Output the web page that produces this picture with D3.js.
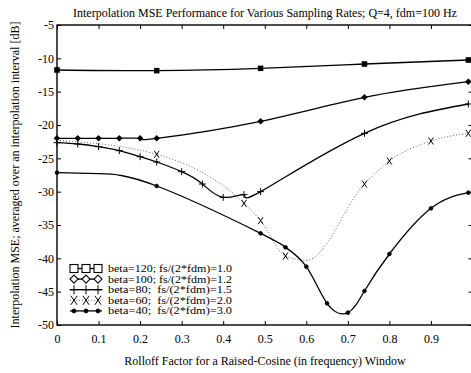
<!DOCTYPE html>
<html>
<head>
<meta charset="utf-8">
<script src="https://cdn.jsdelivr.net/npm/d3@7"></script>
<style>
  html, body { margin: 0; padding: 0; background: #fff; }
  svg { display: block; }
  text { font-family: "Liberation Serif", "Times New Roman", serif; fill: #000; }
</style>
</head>
<body>
<svg id="chart" width="471" height="373"></svg>
<script>
// Interpolation MSE [dB] versus raised-cosine rolloff factor, one curve per sampling rate.
const titleText = "Interpolation MSE Performance for Various Sampling Rates; Q=4, fdm=100 Hz";
const xLabelText = "Rolloff Factor for a Raised-Cosine (in frequency) Window";
const yLabelText = "Interpolation MSE; averaged over an interpolation interval [dB]";

const xTicks = [0, 0.1, 0.2, 0.3, 0.4, 0.5, 0.6, 0.7, 0.8, 0.9];
const yTicks = [-5, -10, -15, -20, -25, -30, -35, -40, -45, -50];

const legendLabels = [
  "beta=120; fs/(2*fdm)=1.0",
  "beta=100; fs/(2*fdm)=1.2",
  "beta=80;  fs/(2*fdm)=1.5",
  "beta=60;  fs/(2*fdm)=2.0",
  "beta=40;  fs/(2*fdm)=3.0"
];

// beta=120, fs/(2*fdm)=1.0
const rolloff120 = [0, 0.24, 0.49, 0.74, 0.99];
const mse120     = [-11.75, -11.85, -11.5, -10.85, -10.25];
const marks120   = [0, 0.24, 0.49, 0.74, 0.99];

// beta=100, fs/(2*fdm)=1.2
const rolloff100 = [0, 0.05, 0.1, 0.15, 0.2, 0.24, 0.49, 0.74, 0.99];
const mse100     = [-22, -22, -22, -22, -22, -22, -19.45, -15.85, -13.5];
const marks100   = [0, 0.05, 0.1, 0.15, 0.2, 0.24, 0.49, 0.74, 0.99];

// beta=80, fs/(2*fdm)=1.5
const rolloff80 = [0, 0.05, 0.1, 0.15, 0.2, 0.24, 0.3, 0.35, 0.4, 0.45, 0.49, 0.74, 0.99];
const mse80     = [-22.65, -22.85, -23.25, -23.85, -24.75, -25.55, -27.0, -28.85, -30.85, -30.45, -30.0, -21.25, -16.85];
const marks80   = [0, 0.05, 0.1, 0.15, 0.2, 0.24, 0.3, 0.35, 0.4, 0.45, 0.49, 0.74, 0.99];

// beta=60, fs/(2*fdm)=2.0
const rolloff60 = [0, 0.24, 0.45, 0.49, 0.55, 0.6, 0.74, 0.8, 0.9, 0.99];
const mse60     = [-22.3, -24.4, -31.75, -34.35, -39.65, -40.3, -28.85, -25.4, -22.4, -21.25];
const marks60   = [0.24, 0.45, 0.49, 0.55, 0.74, 0.8, 0.9, 0.99];

// beta=40, fs/(2*fdm)=3.0
const rolloff40 = [0, 0.1, 0.24, 0.49, 0.55, 0.6, 0.65, 0.7, 0.74, 0.8, 0.9, 0.99];
const mse40     = [-27.15, -27.3, -29.15, -36.25, -38.35, -41.25, -46.75, -48.15, -44.9, -39.35, -32.5, -30.15];
const marks40   = [0, 0.24, 0.49, 0.55, 0.6, 0.65, 0.7, 0.74, 0.8, 0.9, 0.99];

const series = [
  { xs: rolloff120, ys: mse120, marks: marks120, marker: "square",  dotted: false, curve: d3.curveNatural },
  { xs: rolloff100, ys: mse100, marks: marks100, marker: "diamond", dotted: false, curve: d3.curveNatural },
  { xs: rolloff80,  ys: mse80,  marks: marks80,  marker: "plus",    dotted: false, curve: d3.curveNatural },
  { xs: rolloff60,  ys: mse60,  marks: marks60,  marker: "cross",   dotted: true,  curve: d3.curveMonotoneX },
  { xs: rolloff40,  ys: mse40,  marks: marks40,  marker: "dot",     dotted: false, curve: d3.curveNatural }
];

const svg = d3.select("#chart");
const plot = { left: 57, top: 25, right: 472.5, bottom: 325 };

const x = d3.scaleLinear().domain([0, 1]).range([plot.left, plot.right]);
const y = d3.scaleLinear().domain([-5, -50]).range([plot.top, plot.bottom]);

// Title
svg.append("text")
  .attr("x", 265).attr("y", 17)
  .attr("text-anchor", "middle")
  .style("font-size", "12px")
  .text(titleText);

// Axis labels
svg.append("text")
  .attr("x", 265).attr("y", 365)
  .attr("text-anchor", "middle")
  .style("font-size", "12px")
  .text(xLabelText);

svg.append("text")
  .attr("transform", `translate(19,${(plot.top + plot.bottom) / 2}) rotate(-90)`)
  .attr("text-anchor", "middle")
  .style("font-size", "12px")
  .text(yLabelText);

// Axes: inward ticks on all four sides, labels on left and bottom
const tickLen = 4;
const xAxisBottom = d3.axisBottom(x).tickValues(xTicks).tickSize(-tickLen).tickPadding(9)
  .tickFormat(d => d === 0 ? "0" : d3.format(".1f")(d));
const xAxisTop = d3.axisTop(x).tickValues(xTicks.concat([1])).tickSize(-tickLen).tickFormat("");
const yAxisLeft = d3.axisLeft(y).tickValues(yTicks).tickSize(-tickLen).tickPadding(3)
  .tickFormat(d => String(d));
const yAxisRight = d3.axisRight(y).tickValues(yTicks).tickSize(-tickLen).tickFormat("");

function styleAxis(g) {
  g.select(".domain").remove();
  g.selectAll(".tick line").attr("stroke", "#000").attr("stroke-width", 1);
  g.selectAll(".tick text").style("font-size", "12px")
    .style("font-family", "'Liberation Serif', 'Times New Roman', serif").attr("fill", "#000");
}

svg.append("g").attr("transform", `translate(0,${plot.bottom})`).call(xAxisBottom).call(styleAxis);
svg.append("g").attr("transform", `translate(0,${plot.top})`).call(xAxisTop).call(styleAxis);
svg.append("g").attr("transform", `translate(${plot.left},0)`).call(yAxisLeft).call(styleAxis);
svg.append("g").attr("transform", `translate(${plot.right},0)`).call(yAxisRight).call(styleAxis);

// Frame
svg.append("rect")
  .attr("x", plot.left).attr("y", plot.top)
  .attr("width", plot.right - plot.left).attr("height", plot.bottom - plot.top)
  .attr("fill", "none").attr("stroke", "#000").attr("stroke-width", 1.4);

// Marker painter; `fill` is the interior colour of closed markers
function drawMarker(g, type, cx, cy, s, fill) {
  if (type === "square") {
    g.append("rect").attr("x", cx - s).attr("y", cy - s).attr("width", 2 * s).attr("height", 2 * s)
      .attr("fill", fill).attr("stroke", "#000").attr("stroke-width", 1.1);
  } else if (type === "diamond") {
    g.append("path")
      .attr("d", `M${cx},${cy - s}L${cx + s},${cy}L${cx},${cy + s}L${cx - s},${cy}Z`)
      .attr("fill", fill).attr("stroke", "#000").attr("stroke-width", 1.1);
  } else if (type === "plus") {
    g.append("path")
      .attr("d", `M${cx - s},${cy}H${cx + s}M${cx},${cy - s}V${cy + s}`)
      .attr("stroke", "#000").attr("stroke-width", 1).attr("fill", "none");
  } else if (type === "cross") {
    const w = s * 0.7;
    g.append("path")
      .attr("d", `M${cx - w},${cy - s}L${cx + w},${cy + s}M${cx + w},${cy - s}L${cx - w},${cy + s}`)
      .attr("stroke", "#000").attr("stroke-width", 1).attr("fill", "none");
  } else if (type === "dot") {
    g.append("circle").attr("cx", cx).attr("cy", cy).attr("r", s * 0.55)
      .attr("fill", "#000").attr("stroke", "#000").attr("stroke-width", 0.8);
  }
}

const plotG = svg.append("g");
const markerSize = { square: 2.2, diamond: 2.5, plus: 3.5, cross: 3.5, dot: 3.4 };

series.forEach(s => {
  const pts = s.xs.map((v, i) => [v, s.ys[i]]);
  const line = d3.line().x(d => x(d[0])).y(d => y(d[1])).curve(s.curve);
  plotG.append("path")
    .attr("d", line(pts))
    .attr("fill", "none")
    .attr("stroke", s.dotted ? "#555" : "#000")
    .attr("stroke-width", s.dotted ? 0.9 : 1.3)
    .attr("stroke-dasharray", s.dotted ? "1,2" : null);
  const mg = plotG.append("g");
  s.marks.forEach(m => {
    const i = s.xs.indexOf(m);
    drawMarker(mg, s.marker, x(s.xs[i]), y(s.ys[i]), markerSize[s.marker], "#000");
  });
});

// Legend
const legend = svg.append("g");
const legendTop = 268.5, legendStep = 10.6;
const legendMarkX = [74, 86, 98];
const legendMarkSize = { square: 4, diamond: 4, plus: 4.5, cross: 4.5, dot: 3.6 };
series.forEach((s, i) => {
  const ly = legendTop + i * legendStep;
  legend.append("line")
    .attr("x1", 70).attr("x2", 102).attr("y1", ly).attr("y2", ly)
    .attr("stroke", s.dotted ? "#555" : "#000")
    .attr("stroke-width", s.dotted ? 0.9 : 1.3)
    .attr("stroke-dasharray", s.dotted ? "1,2" : null);
  legendMarkX.forEach(mx => drawMarker(legend, s.marker, mx, ly, legendMarkSize[s.marker], "#fff"));
  legend.append("text")
    .attr("x", 108).attr("y", ly + 3.5)
    .style("font-size", "9.5px")
    .style("white-space", "pre")
    .attr("xml:space", "preserve")
    .attr("textLength", 124)
    .attr("lengthAdjust", "spacingAndGlyphs")
    .text(legendLabels[i]);
});
</script>
</body>
</html>
